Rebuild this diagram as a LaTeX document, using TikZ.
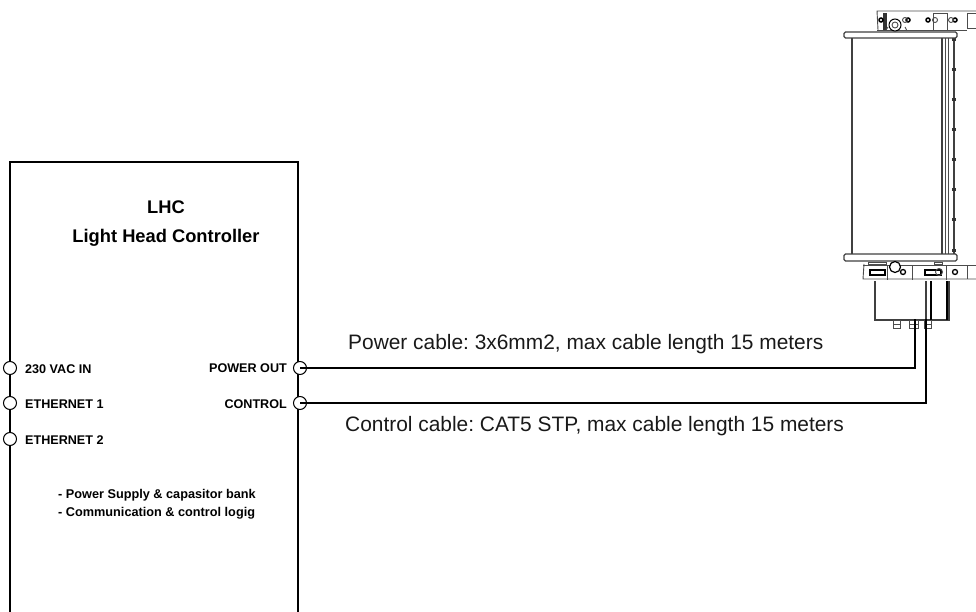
\documentclass[tikz,border=0pt]{standalone}
\usepackage{fontspec}
\setmainfont{Liberation Sans}
\frenchspacing
\tikzset{
  portc/.style={circle,draw=black,fill=white,line width=1pt,minimum size=13pt,inner sep=0pt},
  boxl/.style={line width=2.2pt,draw=black},
  cable/.style={line width=2.6pt,draw=black,line join=miter},
  lab/.style={font=\fontsize{12.6}{14}\selectfont\bfseries,inner sep=0pt},
  headt/.style={font=\fontsize{18.3}{29}\selectfont\bfseries,align=center,inner sep=0pt},
  notet/.style={font=\fontsize{12.7}{18}\selectfont\bfseries,align=left,inner sep=0pt},
  capt/.style={font=\fontsize{20.9}{24}\selectfont,inner sep=0pt,anchor=west,text=black!90},
  thn/.style={line width=0.9pt,draw=black!70},
  med/.style={line width=1.3pt,draw=black!75}
}
\begin{document}
\begin{tikzpicture}[x=1pt,y=-1pt]
\useasboundingbox (0,0) rectangle (976,612);
% controller
\draw[boxl] (10,612) -- (10,162) -- (298,162) -- (298,612);
\node[headt] (title) at (166,224) {LHC\\Light Head Controller};
\node[portc] (p1) at (10,368) {};
\node[portc] (p2) at (10,403) {};
\node[portc] (p3) at (10,439) {};
\node[portc] (p4) at (300,368) {};
\node[portc] (p5) at (300,403) {};
\node[lab,anchor=west] (l1) at (25,369) {230 VAC IN};
\node[lab,anchor=west] (l2) at (25,404) {ETHERNET 1};
\node[lab,anchor=west] (l3) at (25,440) {ETHERNET 2};
\node[lab,anchor=east] (l4) at (287,368) {POWER OUT};
\node[lab,anchor=east] (l5) at (287,404) {CONTROL};
\node[notet,anchor=west] (n) at (58,504.5) {- Power Supply \& capasitor bank\\- Communication \& control logig};
\node[capt] (c1) at (348,344) {Power cable: 3x6mm2, max cable length 15 meters};
\node[capt] (c2) at (345,426) {Control cable: CAT5 STP, max cable length 15 meters};
% light head: body
\draw[med] (852,38) -- (852,254);
\draw[med] (942,38) -- (942,254);
\draw[thn] (945,38) -- (945,254);
\draw[thn] (948,38) -- (948,254);
\draw[med] (954,38) -- (954,254);
\foreach \yy in {40,70,100,130,160,190,220,250} \fill[black!80] (952,\yy-1.5) rectangle (955.5,\yy+1.5);
% plates
\draw[med,rounded corners=1.5pt,fill=white] (844,32) rectangle (957,38);
\draw[med,rounded corners=1.5pt,fill=white] (844,254) rectangle (957,261);
% top bracket
\draw[thn] (878,30) -- (877,11) -- (976,11);
\draw[thn] (877,30) -- (967,30);
\draw[thn] (933,13) rectangle (947,30);
\draw[thn] (967,13) -- (976,13) (967,13) -- (967,28) -- (976,28);
\fill[black!80] (883,13) rectangle (887,30);
\foreach \xx in {881,908,928,955} \draw[line width=1.5pt,fill=white] (\xx,20) circle (2pt);
\foreach \xx in {905,935,951} \draw[thn] (\xx,20) circle (2.5pt);
\draw[line width=1pt,fill=white] (895,25) circle (6pt);
\draw[thn] (895,25) circle (3pt);
\draw[thn] (886,30) -- (888,27) (905,27) -- (907,31);
\foreach \xx in {878,918,932} \draw[thn] (\xx,30.5) -- (\xx+8,30.5);
% bottom bracket
\draw[thn] (864,264) -- (863,279) -- (976,279);
\draw[thn] (863,265) -- (976,265);
\draw[thn] (967,265) -- (967,279);
\draw[thn] (887,265) -- (887,280);
\draw[thn] (912,265) -- (912,280);
\draw[thn] (946,265) -- (946,280);
\draw[line width=1.2pt] (870,270) rectangle (885,275);
\draw[line width=1.2pt,fill=white] (895,267) circle (5.5pt);
\draw[line width=1.2pt] (925,270) rectangle (941,275);
\draw[thn] (939,272) circle (3.5pt);
\foreach \xx in {903,955} \draw[line width=1.3pt] (\xx,272) circle (2.5pt);
\draw[thn] (868,262) rectangle (886,264);
\draw[thn] (934,262) rectangle (942,264);
% lower housing
\draw[med] (875,281) -- (875,320) -- (949,320) -- (949,281);
\draw[med] (926,281) -- (926,320);
\draw[line width=1.3pt] (931,281) -- (931,320);
\draw[line width=1.5pt] (947,281) -- (947,320);
% glands
\foreach \xa/\xb in {893/900,909/918,924/931} {
  \draw[thn] (\xa,320) rectangle (\xb,328);
  \draw[thn] (\xa,324) -- (\xb,324);
}
% cables
\coordinate (a) at (915,319);
\coordinate (b) at (926,319);
\draw[cable] (p4.center) -- (915,368) -- (a);
\draw[cable] (p5.center) -- (926,403) -- (b);
\end{tikzpicture}
\end{document}
